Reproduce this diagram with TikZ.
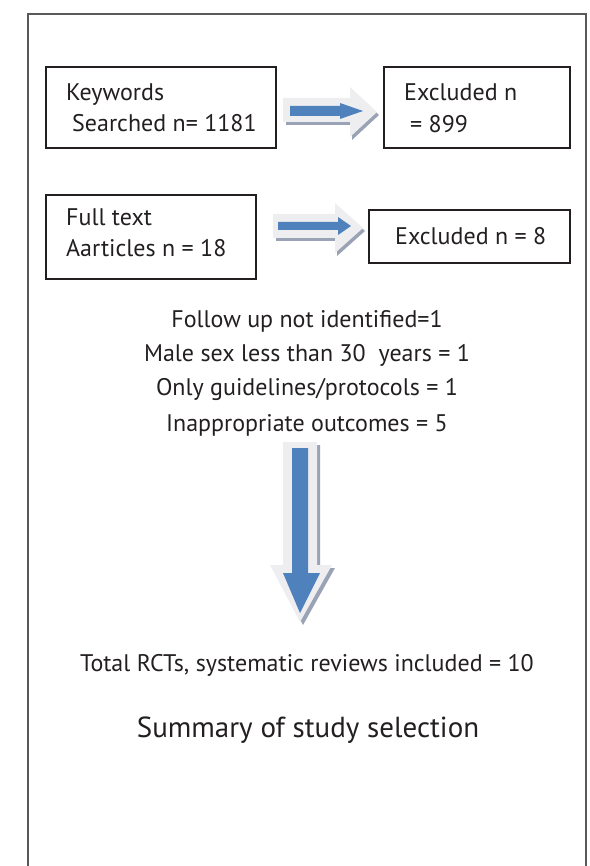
\documentclass[tikz,border=0pt]{standalone}
\usepackage{fontspec}
\setmainfont{PT Sans}
\definecolor{arrblue}{HTML}{4F81BD}
\definecolor{arrlight}{HTML}{EEEEF1}
\definecolor{arrshadow}{HTML}{9AA3B5}
\definecolor{ink}{HTML}{231F20}
\begin{document}
\begin{tikzpicture}[x=1pt,y=-1pt,
  box/.style={draw=ink,line width=1.3pt},
  txt/.style={anchor=base west,inner sep=0pt,text=ink,font=\fontsize{24}{28}\selectfont},
  ctxt/.style={anchor=base,inner sep=0pt,text=ink,font=\fontsize{24}{28}\selectfont},
  outer/.style={fill=arrlight},
  shad/.style={fill=arrshadow},
  inner/.style={fill=arrblue}]
\useasboundingbox (0,0) rectangle (589,866);
% outer frame
\draw[line width=1.3pt,gray!70!black] (28,866) -- (28,14) -- (586,14) -- (586,866);

% boxes
\draw[box] (46,67) rectangle (276,148);
\draw[box] (384,67) rectangle (570,148);
\draw[box] (46,195) rectangle (256,279);
\draw[box] (369,210) rectangle (570,263);

\node[txt] (k1) at (66,101) {Keywords};
\node[txt] (k2) at (72,132) {Searched n= 1181};
\node[txt] (e1) at (404,101) {Excluded n};
\node[txt] (e2) at (410,133) {= 899};
\node[txt] (f1) at (66,226) {Full text};
\node[txt] (f2) at (66,257) {Aarticles n = 18};
\node[txt] (e3) at (395,245) {Excluded n = 8};

% arrow 1
\fill[shad] (286,101) -- (352,101) -- (352,90) -- (379,115) -- (352,140) -- (352,125) -- (286,125) -- cycle;
\fill[outer] (283,98) -- (350,98) -- (350,87) -- (377,112) -- (350,137) -- (350,122) -- (283,122) -- cycle;
\fill[inner] (290,106) -- (340,106) -- (340,103) -- (363,111) -- (340,119) -- (340,116) -- (290,116) -- cycle;

% arrow 2
\fill[shad] (276,217) -- (337,217) -- (337,206) -- (365,231) -- (337,256) -- (337,241) -- (276,241) -- cycle;
\fill[outer] (273,214) -- (335,214) -- (335,203) -- (363,228) -- (335,253) -- (335,238) -- (273,238) -- cycle;
\fill[inner] (278,222) -- (338,222) -- (338,217) -- (351,226) -- (338,235) -- (338,230) -- (278,230) -- cycle;

% down arrow
\fill[shad] (286,445) -- (320,445) -- (320,568) -- (335,568) -- (303,625) -- (273,568) -- (286,568) -- cycle;
\fill[outer] (283,442) -- (317,442) -- (317,565) -- (332,565) -- (300,622) -- (270,565) -- (283,565) -- cycle;
\fill[inner] (292,448) -- (308,448) -- (308,573) -- (320,573) -- (300,613) -- (283,573) -- (292,573) -- cycle;

% texts
\node[ctxt] (t1) at (307,327) {Follow up not identified=1};
\node[ctxt] (t2) at (307,361) {Male sex less than 30\ \ years = 1};
\node[ctxt] (t3) at (307,395) {Only guidelines/protocols = 1};
\node[ctxt] (t4) at (307,431) {Inappropriate outcomes = 5};
\node[ctxt] (t5) at (307,671) {Total RCTs, systematic reviews included = 10};
\node[anchor=base,inner sep=0pt,text=ink,font=\fontsize{29}{34}\selectfont] (t6) at (308,737) {Summary of study selection};
\end{tikzpicture}
\end{document}
